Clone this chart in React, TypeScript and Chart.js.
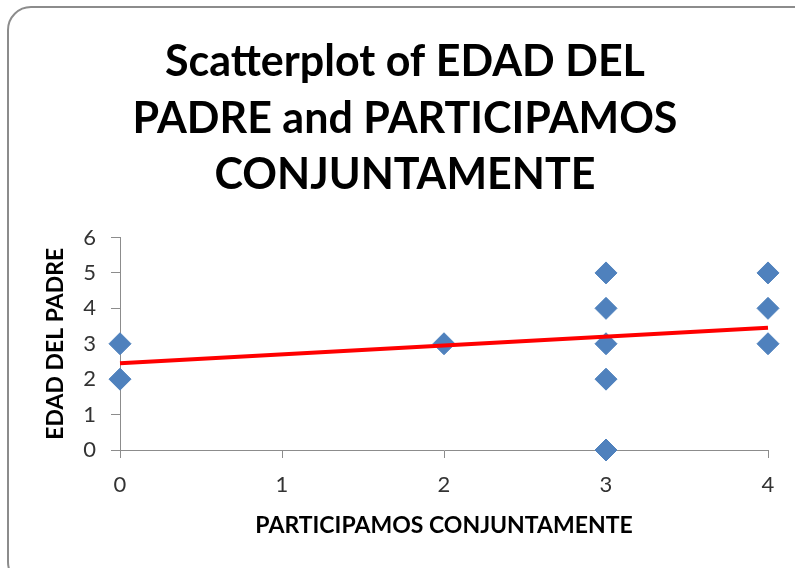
import React, { useEffect, useRef } from "react";
import { Chart, registerables } from "chart.js";

Chart.register(...registerables);

const titleLines = ["Scatterplot of EDAD DEL", "PADRE and PARTICIPAMOS", "CONJUNTAMENTE"];
const xAxisTitle = "PARTICIPAMOS CONJUNTAMENTE";
const yAxisTitle = "EDAD DEL PADRE";

const participamos = [0, 0, 2, 3, 3, 3, 3, 3, 4, 4, 4];
const edadPadre = [3, 2, 3, 5, 4, 3, 2, 0, 5, 4, 3];

const trendX = [0, 4];
const trendY = [2.45, 3.45];

const xTicks = [0, 1, 2, 3, 4];
const yTicks = [0, 1, 2, 3, 4, 5, 6];

const FONT = "Lato, 'Open Sans', sans-serif";

export default function App() {
  const ref = useRef<HTMLCanvasElement | null>(null);

  useEffect(() => {
    document.body.style.margin = "0";
    const canvas = ref.current;
    if (!canvas) return;
    const chart = new Chart(canvas, {
      type: "scatter",
      data: {
        datasets: [
          {
            label: "Trend",
            type: "line",
            data: trendX.map((x, i) => ({ x, y: trendY[i] })),
            borderColor: "#ff0000",
            borderWidth: 4,
            pointRadius: 0,
            fill: false,
            clip: false,
            order: 0,
          },
          {
            label: yAxisTitle,
            data: participamos.map((x, i) => ({ x, y: edadPadre[i] })),
            pointStyle: "rectRot",
            pointRadius: 11,
            pointHoverRadius: 11,
            backgroundColor: "#4f81bd",
            borderColor: "#4f81bd",
            borderWidth: 1,
            clip: false,
            order: 1,
          },
        ],
      },
      options: {
        responsive: false,
        animation: false,
        layout: { padding: { left: 42, right: 27, top: 0, bottom: 0 } },
        plugins: {
          legend: { display: false },
          tooltip: { enabled: false },
          title: {
            display: true,
            text: titleLines,
            color: "#000000",
            font: { family: FONT, size: 43, weight: "bold", lineHeight: 1.314 },
            padding: { top: 34, bottom: 34 },
          },
        },
        scales: {
          x: {
            type: "linear",
            min: 0,
            max: 4,
            afterBuildTicks: (scale: any) => {
              scale.ticks = xTicks.map((v) => ({ value: v }));
            },
            afterFit: (scale: any) => {
              scale.height = 118;
            },
            ticks: {
              color: "#333333",
              font: { family: FONT, size: 22 },
              padding: 14,
            },
            grid: {
              drawOnChartArea: false,
              drawTicks: true,
              tickLength: 8,
              color: "#8c8c8c",
            },
            border: { color: "#8c8c8c", width: 1 },
            title: {
              display: true,
              text: xAxisTitle,
              color: "#000000",
              font: { family: FONT, size: 23, weight: "bold" },
              padding: { top: 0, bottom: 29 },
            },
          },
          y: {
            type: "linear",
            min: 0,
            max: 6,
            afterBuildTicks: (scale: any) => {
              scale.ticks = yTicks.map((v) => ({ value: v }));
            },
            afterFit: (scale: any) => {
              scale.width = 78;
            },
            ticks: {
              color: "#333333",
              font: { family: FONT, size: 22 },
              padding: 15,
            },
            grid: {
              drawOnChartArea: false,
              drawTicks: true,
              tickLength: 9,
              color: "#8c8c8c",
            },
            border: { color: "#8c8c8c", width: 1 },
            title: {
              display: true,
              text: yAxisTitle,
              color: "#000000",
              font: { family: FONT, size: 23, weight: "bold" },
              padding: { top: 0, bottom: 0 },
            },
          },
        },
      },
    } as any);
    return () => chart.destroy();
  }, []);

  return (
    <div
      style={{
        position: "absolute",
        left: 0,
        top: 0,
        width: 795,
        height: 568,
        overflow: "hidden",
        background: "#ffffff",
      }}
    >
      <div
        style={{
          position: "absolute",
          left: 7,
          top: 6,
          width: 810,
          height: 580,
          border: "2px solid #8c8c8c",
          borderRadius: 24,
          boxSizing: "border-box",
        }}
      />
      <canvas
        ref={ref}
        width={795}
        height={568}
        style={{ position: "absolute", left: 0, top: 0, width: 795, height: 568 }}
      />
    </div>
  );
}
